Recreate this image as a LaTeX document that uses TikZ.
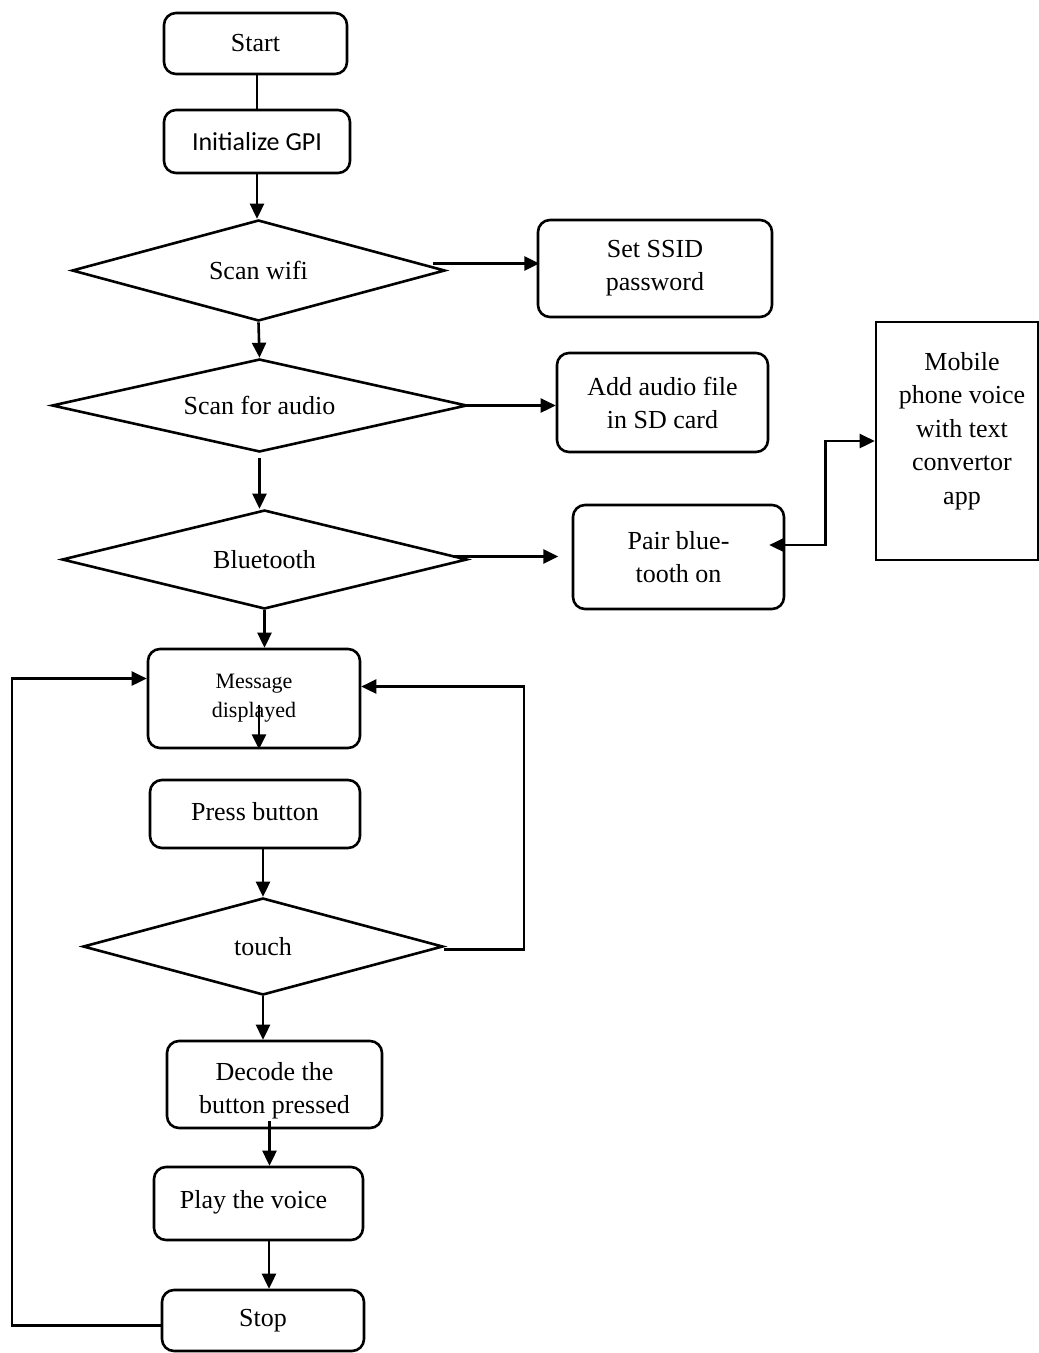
\documentclass[tikz,border=0pt]{standalone}
\usepackage{fontspec}
\setmainfont{Liberation Serif}
\newfontfamily\calib{Carlito}
\usetikzlibrary{arrows.meta,shapes.geometric,calc}
\begin{document}
\begin{tikzpicture}[x=1pt,y=-1pt,
  line width=2.6pt,
  arr/.style={-{Triangle[length=15pt,width=14pt]}},
  arrb/.style={{Triangle[length=15pt,width=14pt]}-{Triangle[length=15pt,width=14pt]}},
  box/.style={draw,rounded corners=12pt,inner sep=0pt,align=center,
    font=\fontsize{26}{33}\selectfont},
  dia/.style={draw,diamond,inner sep=0pt,align=center,
    font=\fontsize{26}{33}\selectfont},
  plain/.style={align=center,font=\fontsize{26}{33.5}\selectfont}]
\useasboundingbox (0,0) rectangle (1039,1353);

\node[box,minimum width=183pt,minimum height=61pt] (start) at (255.5,43.5) {Start};
\node[box,minimum width=186pt,minimum height=63pt,font=\calib\fontsize{26}{33}\selectfont] (init) at (257,141.5) {Initialize GPI};
\node[dia,aspect=3.69,minimum width=373pt,minimum height=101pt] (wifi) at (258.5,270.5) {Scan wifi};
\node[box,minimum width=234pt,minimum height=97pt] (ssid) at (655,268.5) {Set SSID\\password};
\node[dia,aspect=4.46,minimum width=415pt,minimum height=93pt] (audio) at (259.5,405.5) {Scan for audio};
\node[box,minimum width=211pt,minimum height=99pt] (add) at (662.5,402.5) {Add audio file\\in SD card};
\node[dia,aspect=4.09,minimum width=405pt,minimum height=99pt] (bt) at (264.5,559.5) {Bluetooth};
\node[box,minimum width=211pt,minimum height=104pt] (pair) at (678.5,557) {Pair blue-\\tooth on};
\node[draw,minimum width=162pt,minimum height=238pt,inner sep=0pt] (mobile) at (957,441) {};
\node[plain] (mobiletxt) at (962,431) {Mobile\\phone voice\\with text\\convertor\\app};
\node[box,minimum width=212pt,minimum height=99pt,font=\fontsize{22}{29}\selectfont] (msg) at (254,698.5) {Message\\displayed};
\node[box,minimum width=210pt,minimum height=68pt] (press) at (255,814) {\raisebox{6pt}{Press button}};
\node[dia,aspect=3.71,minimum width=360pt,minimum height=97pt] (touch) at (263,946.5) {touch};
\node[box,minimum width=215pt,minimum height=87pt] (decode) at (274.5,1084.5) {\rule{0pt}{30pt}Decode the\\button pressed};
\node[box,minimum width=209pt,minimum height=73pt] (play) at (258.5,1203.5) {\raisebox{8pt}{Play the voice}\hspace*{10pt}};
\node[box,minimum width=202pt,minimum height=61pt] (stop) at (263,1320.5) {\raisebox{-2pt}{Stop}};

\coordinate (lft) at (12,0);
\coordinate (rgt) at (524,0);

\draw (start.south -| init.south) -- (init.north);
\draw[arr] (init.south) -- (init.south |- wifi.north);
\draw[arr] ([xshift=-13pt,yshift=7pt]wifi.east) -- ++(106,0);
\draw[arr] (wifi.south) -- (audio.north);
\draw[arr] ([xshift=-7pt]audio.east) -- (add.west |- audio.east);
\draw[arr] ([yshift=-5pt]audio.south) -- (audio.south |- bt.north);
\draw[arr] ([xshift=-15pt,yshift=3pt]bt.east) -- ++(105,0);
\draw[arrb] ([xshift=-16pt,yshift=12pt]pair.east) -- ++(56,0) |- (mobile.west);
\draw[arr] (bt.south) -- (bt.south |- msg.north);
\draw[arr] ([xshift=5pt,yshift=-6pt]msg.center) -- ([xshift=5pt]msg.south);
\draw[arr] (touch.north |- press.south) -- (touch.north);
\draw[arr] (touch.south) -- (touch.south |- decode.north);
\draw[arr] ([xshift=-5pt,yshift=8pt]decode.south) -- ([xshift=-5pt]decode.south |- play.north);
\draw[arr] ([xshift=6pt]stop.north |- play.south) -- ([xshift=6pt]stop.north);
\draw[arr] ([yshift=-5pt]stop.west) -- ([yshift=-5pt]stop.west -| lft) |- ([yshift=20pt]msg.west);
\draw[arr] ([yshift=-3pt]touch.east) -- ([yshift=-3pt]touch.east -| rgt) |- ([yshift=12pt]msg.east);
\end{tikzpicture}
\end{document}
